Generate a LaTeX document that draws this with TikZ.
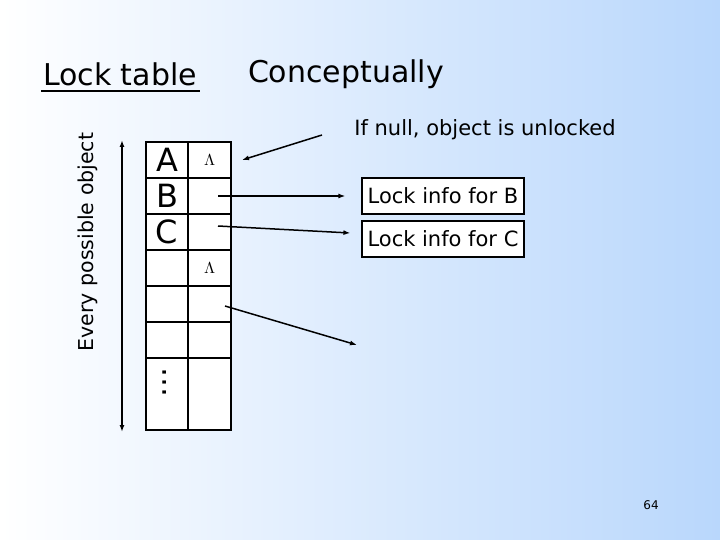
\documentclass[tikz,border=0pt]{standalone}
\usepackage{fontspec}
\setmainfont{DejaVu Sans}
\usepackage{unicode-math}
\usetikzlibrary{shadings,arrows.meta}
\definecolor{bgb}{RGB}{185,215,252}
\begin{document}
\begin{tikzpicture}[x=1pt,y=-1pt,
  lbl/.style={draw,line width=1.2pt,fill=white,inner sep=2pt,font=\fontsize{21}{21}\selectfont},
  arr/.style={line width=1.5pt,-{Latex[length=7pt,width=5pt]}},
  cell/.style={draw,line width=1.3pt,fill=white}]
\shade[left color=white,right color=bgb] (0,0) rectangle (720,540);
\useasboundingbox (0,0) rectangle (720,540);
\node (t1) at (120,74) {\fontsize{30}{30}\selectfont Lock table};
\draw[line width=1.5pt] (41,91) -- (200,91);
\node (t2) at (346,74) {\fontsize{30}{30}\selectfont Conceptually};
\node[rotate=90] (ev) at (88,242) {\fontsize{20.5}{21}\selectfont Every possible object};
\draw[line width=1.5pt,{Latex[length=7pt,width=5pt]}-{Latex[length=7pt,width=5pt]}] (122,140) -- (122,432);
\foreach \y in {142,178,214,250,286,322}{\draw[cell] (146,\y) rectangle (188,\y+36); \draw[cell] (188,\y) rectangle (231,\y+36);}
\draw[cell] (146,358) rectangle (188,430); \draw[cell] (188,358) rectangle (231,430);
\node (A) at (167,160) {\fontsize{32}{32}\selectfont A};
\node (B) at (167,196) {\fontsize{32}{32}\selectfont B};
\node (C) at (167,232) {\fontsize{32}{32}\selectfont C};
\node (dots) at (165,382) {\fontsize{30}{30}\selectfont\rotatebox{90}{\dots}};
\node (n1) at (210,160) {\fontsize{16}{16}\selectfont $\Lambda$};
\node (n2) at (210,268) {\fontsize{16}{16}\selectfont $\Lambda$};
\coordinate (pB) at (218,196); \coordinate (pC) at (218,226); \coordinate (pE) at (225,306);
\coordinate (nn) at (242,160); \coordinate (ne) at (357,345);
\node (ifn) at (485,130) {\fontsize{21}{21}\selectfont If null, object is unlocked};
\node[lbl,minimum width=162,minimum height=36] (LB) at (443,196) {Lock info for B};
\node[lbl,minimum width=162,minimum height=36] (LC) at (443,239) {Lock info for C};
\draw[arr] (322,135) -- (nn);
\draw[arr] (pB) -- ([xshift=-16pt]LB.west);
\draw[arr] (pC) -- ([xshift=-11pt,yshift=6pt]LC.west);
\draw[arr] (pE) -- (ne);
\node (pg) at (651,505) {\fontsize{12}{12}\selectfont 64};
\end{tikzpicture}
\end{document}
